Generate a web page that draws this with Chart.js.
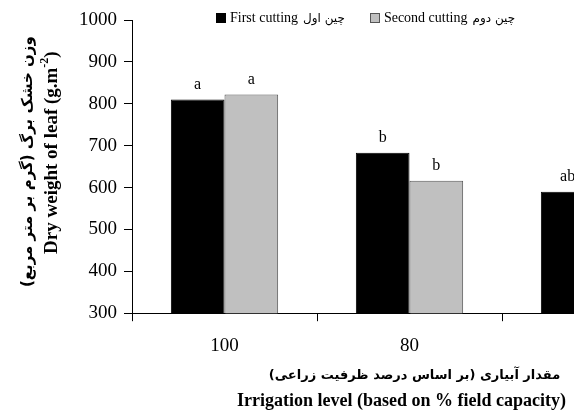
<!DOCTYPE html>
<html>
<head>
<meta charset="utf-8">
<script src="https://cdn.jsdelivr.net/npm/chart.js@4"></script>
<style>
  body { margin: 0; overflow: hidden; background: #fff; }
  #wrap { position: relative; width: 720px; height: 415px; }
  #legend { position: absolute; top: 10px; left: 216px; font: 14px 'Liberation Serif', 'DejaVu Sans', serif; color: #000; white-space: nowrap; }
  #legend span.box { display: inline-block; width: 10px; height: 10px; margin-right: 4px; vertical-align: -1px; box-sizing: border-box; }
  #legend span.fa { font: 12px 'DejaVu Sans', sans-serif; margin-left: 5px; }
  #legend span.item { margin-right: 25px; }
</style>
</head>
<body>
<div id="wrap">
  <canvas id="chart" width="720" height="415"></canvas>
  <div id="legend"></div>
</div>
<script>
const categories = ['100', '80', '60'];
const seriesEn = ['First cutting', 'Second cutting'];
const seriesFa = ['چین اول', 'چین دوم'];
const firstCutting = [810, 683, 590];
const secondCutting = [822, 616, 560];
const firstLetters = ['a', 'b', 'ab'];
const secondLetters = ['a', 'b', 'b'];
const yTicks = [300, 1000, 100];
const xTitle = ['مقدار آبیاری (بر اساس درصد ظرفیت زراعی)', 'Irrigation level (based on % field capacity)'];
const yTitle = ['وزن خشک برگ (گرم بر متر مربع)', 'Dry weight of leaf (g.m', '-2', ')'];

const serif = "'Liberation Serif', 'DejaVu Sans', serif";

// letters over the bars
const letterPlugin = {
    id: 'letters',
    afterDatasetsDraw(chart) {
        const ctx = chart.ctx;
        const letters = [firstLetters, secondLetters];
        ctx.save();
        ctx.fillStyle = '#000';
        ctx.font = '16px ' + serif;
        ctx.textAlign = 'center';
        ctx.textBaseline = 'alphabetic';
        chart.data.datasets.forEach((ds, i) => {
            chart.getDatasetMeta(i).data.forEach((bar, j) => {
                ctx.fillText(letters[i][j], bar.x, bar.y - 11);
            });
        });
        ctx.restore();
    }
};

// axis titles, two languages with different fonts
const titlePlugin = {
    id: 'titles',
    afterDraw(chart) {
        const ctx = chart.ctx;
        const area = chart.chartArea;
        ctx.save();
        ctx.fillStyle = '#000';
        ctx.textBaseline = 'middle';
        ctx.textAlign = 'center';
        const cx = (area.left + area.right) / 2;
        ctx.font = "bold 13px 'DejaVu Sans', sans-serif";
        ctx.fillText(xTitle[0], cx + 5, area.bottom + 62);
        ctx.font = 'bold 18px ' + serif;
        ctx.fillText(xTitle[1], cx - 8, area.bottom + 88);

        const cy = (area.top + area.bottom) / 2;
        ctx.translate(area.left - 104, cy - 5);
        ctx.rotate(-Math.PI / 2);
        ctx.font = "bold 15px 'DejaVu Sans', sans-serif";
        ctx.fillText(yTitle[0], 0, 0);
        ctx.restore();

        ctx.save();
        ctx.fillStyle = '#000';
        ctx.textBaseline = 'middle';
        ctx.textAlign = 'left';
        ctx.translate(area.left - 80, cy - 14);
        ctx.rotate(-Math.PI / 2);
        const big = 'bold 19px ' + serif;
        const small = 'bold 12px ' + serif;
        ctx.font = big;
        const w1 = ctx.measureText(yTitle[1]).width;
        const w3 = ctx.measureText(yTitle[3]).width;
        ctx.font = small;
        const w2 = ctx.measureText(yTitle[2]).width;
        let x = -(w1 + w2 + w3) / 2;
        ctx.font = big;
        ctx.fillText(yTitle[1], x, 0);
        x += w1;
        ctx.font = small;
        ctx.fillText(yTitle[2], x, -7);
        x += w2;
        ctx.font = big;
        ctx.fillText(yTitle[3], x, 0);
        ctx.restore();
    }
};

const chart = new Chart(document.getElementById('chart'), {
    type: 'bar',
    data: {
        labels: categories,
        datasets: [{
            label: seriesEn[0],
            data: firstCutting,
            backgroundColor: '#000000',
            borderColor: '#000000',
            borderWidth: 1
        }, {
            label: seriesEn[1],
            data: secondCutting,
            backgroundColor: '#c0c0c0',
            borderColor: '#555555',
            borderWidth: 1
        }]
    },
    options: {
        responsive: false,
        animation: false,
        layout: {
            padding: {top: 20, left: 79, right: 33, bottom: 45}
        },
        datasets: {
            bar: {categoryPercentage: 0.58, barPercentage: 1}
        },
        plugins: {
            legend: {display: false},
            tooltip: {enabled: false}
        },
        scales: {
            x: {
                grid: {offset: true, drawOnChartArea: false, drawTicks: true, tickLength: 8, color: '#000'},
                border: {color: '#000', width: 1},
                ticks: {color: '#000', font: {family: serif, size: 19}, padding: 13}
            },
            y: {
                min: yTicks[0],
                max: yTicks[1],
                afterFit(scale) { scale.width = 53; },
                grid: {drawOnChartArea: false, drawTicks: true, tickLength: 8, color: '#000'},
                border: {color: '#000', width: 1},
                ticks: {
                    stepSize: yTicks[2],
                    color: '#000',
                    font: {family: serif, size: 19},
                    padding: 7,
                    callback: v => String(v)
                }
            }
        }
    },
    plugins: [letterPlugin, titlePlugin]
});

const legend = document.getElementById('legend');
chart.data.datasets.forEach((ds, i) => {
    const item = document.createElement('span');
    item.className = 'item';
    const box = document.createElement('span');
    box.className = 'box';
    box.style.background = ds.backgroundColor;
    box.style.border = '1px solid ' + ds.borderColor;
    item.appendChild(box);
    item.appendChild(document.createTextNode(seriesEn[i]));
    const fa = document.createElement('span');
    fa.className = 'fa';
    fa.textContent = seriesFa[i];
    item.appendChild(fa);
    legend.appendChild(item);
});
</script>
</body>
</html>
